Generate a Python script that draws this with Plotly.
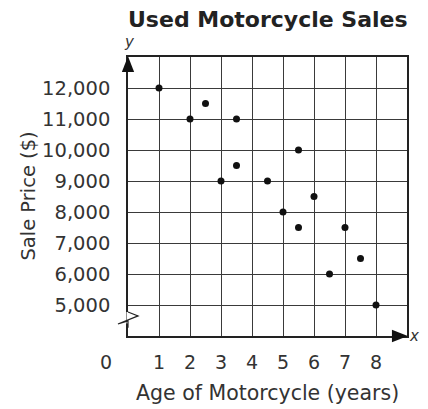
import plotly.graph_objects as go

age_years = [1, 2, 2.5, 3.5, 3, 3.5, 4.5, 5.5, 5, 5.5, 6, 7, 7.5, 6.5, 8]
sale_price = [12000, 11000, 11500, 11000, 9000, 9500, 9000, 10000, 8000, 7500, 8500, 7500, 6500, 6000, 5000]
x_ticks = [1, 2, 3, 4, 5, 6, 7, 8]
y_ticks = [5000, 6000, 7000, 8000, 9000, 10000, 11000, 12000]
y_tick_text = [f"{v:,}" for v in y_ticks]

FONT = "DejaVu Sans"
INK = "#333333"
GRID = "#3a3a3a"

fig = go.Figure()
fig.add_trace(go.Scatter(
    x=age_years, y=sale_price, mode="markers",
    marker=dict(color="#111111", size=7), hoverinfo="x+y", showlegend=False,
))

# the page body adds an 8px margin, so the figure is 8px smaller on each side
fig.update_layout(
    width=420, height=401,
    margin=dict(l=120, r=21, t=49, b=73, autoexpand=False),
    paper_bgcolor="white", plot_bgcolor="white",
    font=dict(family=FONT, color=INK, size=19),
    xaxis=dict(range=[0, 9], tickvals=x_ticks, ticks="", showgrid=True,
               gridcolor=GRID, gridwidth=1, showline=True, linecolor="#222222",
               linewidth=1.5, mirror=True, zeroline=False, automargin=False,
               ticklabelstandoff=8, tickfont=dict(size=19, color=INK)),
    yaxis=dict(range=[4000, 13000], tickvals=y_ticks, ticktext=y_tick_text,
               ticks="", showgrid=True, gridcolor=GRID, gridwidth=1,
               showline=True, linecolor="#222222", linewidth=1.5, mirror=True,
               zeroline=False, automargin=False, ticklabelstandoff=12,
               tickfont=dict(size=19.5, color=INK)),
)

# chart title and axis titles
fig.add_annotation(x=0.5, y=1.136, xref="paper", yref="paper", showarrow=False,
                   text="<b>Used Motorcycle Sales</b>", xanchor="center", yanchor="middle",
                   font=dict(size=22, color="#222222"))
fig.add_annotation(x=0.5, y=-0.204, xref="paper", yref="paper", showarrow=False,
                   text="Age of Motorcycle (years)", xanchor="center", yanchor="middle",
                   font=dict(size=20.5, color=INK))
fig.add_annotation(x=-0.358, y=0.5, xref="paper", yref="paper", showarrow=False,
                   text="Sale Price ($)", textangle=-90, xanchor="center", yanchor="middle",
                   font=dict(size=19.5, color=INK))
# origin label "0"
fig.add_annotation(x=-0.079, y=-0.093, xref="paper", yref="paper", text="0",
                   showarrow=False, xanchor="center", yanchor="middle",
                   font=dict(size=19, color=INK))
# axis letters
fig.add_annotation(x=0.004, y=1.054, xref="paper", yref="paper", text="<i>y</i>",
                   showarrow=False, xanchor="center", yanchor="middle",
                   font=dict(size=15, color=INK))
fig.add_annotation(x=1.025, y=0.0, xref="paper", yref="paper", text="<i>x</i>",
                   showarrow=False, xanchor="center", yanchor="middle",
                   font=dict(size=15, color=INK))
# arrowheads
fig.add_shape(type="path", xref="paper", yref="paper",
              path="M 0 1.003 L -0.022 0.946 L 0.022 0.946 Z",
              fillcolor="#111111", line=dict(width=0))
fig.add_shape(type="path", xref="paper", yref="paper",
              path="M 1.003 0 L 0.946 0.022 L 0.946 -0.022 Z",
              fillcolor="#111111", line=dict(width=0))
# axis break zigzag
fig.add_shape(type="line", xref="paper", yref="paper", x0=0, x1=0, y0=0.045, y1=0.086,
              line=dict(color="white", width=3))
fig.add_shape(type="path", xref="paper", yref="paper",
              path="M 0 0.086 L 0.036 0.072 L -0.036 0.043 L 0 0.054 L 0 0.03",
              line=dict(color="#222222", width=1.2))

fig.write_html("out.html")
